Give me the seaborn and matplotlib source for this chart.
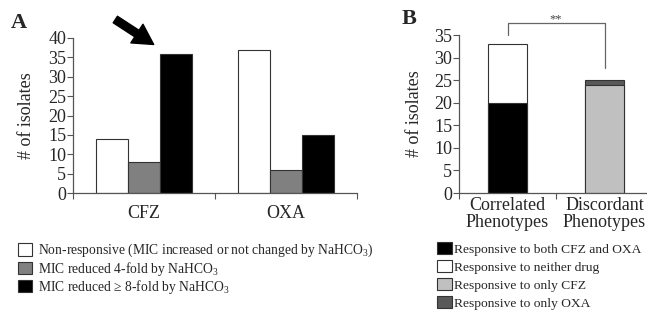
import matplotlib
matplotlib.use("Agg")
import matplotlib.pyplot as plt
import seaborn as sns
import pandas as pd
from matplotlib.patches import Patch

# ---- data ----
drugs = ["CFZ", "OXA"]
resp_labels = ["Non-responsive (MIC increased or not changed by NaHCO$_3$)",
               "MIC reduced 4-fold by NaHCO$_3$",
               "MIC reduced \u2265 8-fold by NaHCO$_3$"]
nonresp = [14, 37]
reduced4 = [8, 6]
reduced8 = [36, 15]

phenos = ["Correlated\nPhenotypes", "Discordant\nPhenotypes"]
both = [20, 0]
neither = [13, 0]
only_cfz = [0, 24]
only_oxa = [0, 1]
b_labels = ["Responsive to both CFZ and OXA", "Responsive to neither drug",
            "Responsive to only CFZ", "Responsive to only OXA"]

sns.set_theme(style="white")
plt.rcParams["font.family"] = ["Liberation Serif", "DejaVu Serif"]
plt.rcParams["mathtext.fontset"] = "custom"
plt.rcParams["mathtext.rm"] = "Liberation Serif"
plt.rcParams["mathtext.it"] = "Liberation Serif:italic"

FS = 13
edge = "#333333"
spine_c = "#555555"

fig = plt.figure(figsize=(6.47, 3.13), dpi=100)
axA = fig.add_axes([73/647, 1-193/313, 284/647, 155/313])
axB = fig.add_axes([459/647, 1-193/313, 194/647, 158/313])

# ---- panel A ----
dfA = pd.DataFrame({
    "drug": drugs * 3,
    "group": [resp_labels[0]]*2 + [resp_labels[1]]*2 + [resp_labels[2]]*2,
    "count": nonresp + reduced4 + reduced8,
})
palA = {resp_labels[0]: "white", resp_labels[1]: "#808080", resp_labels[2]: "black"}
sns.barplot(data=dfA, x="drug", y="count", hue="group", hue_order=resp_labels,
            palette=palA, width=0.67, gap=0, edgecolor=edge, linewidth=0.8,
            saturation=1, legend=False, ax=axA)
axA.set_ylim(0, 40)
axA.set_yticks(range(0, 41, 5))
axA.set_xlim(-0.5, 1.5)

# ---- panel B (stacked by layering) ----
dfB_tot = pd.DataFrame({"pheno": phenos,
                        "val": [both[0] + neither[0], only_cfz[1] + only_oxa[1]],
                        "cls": ["top0", "top1"]})
dfB_bot = pd.DataFrame({"pheno": phenos,
                        "val": [both[0], only_cfz[1]],
                        "cls": ["bot0", "bot1"]})
sns.barplot(data=dfB_tot, x="pheno", y="val", hue="cls",
            palette={"top0": "white", "top1": "#595959"}, dodge=False,
            width=0.4, edgecolor=edge, linewidth=0.8, saturation=1,
            legend=False, ax=axB)
sns.barplot(data=dfB_bot, x="pheno", y="val", hue="cls",
            palette={"bot0": "black", "bot1": "#c0c0c0"}, dodge=False,
            width=0.4, edgecolor=edge, linewidth=0.8, saturation=1,
            legend=False, ax=axB)
axB.set_ylim(0, 35)
axB.set_yticks(range(0, 36, 5))
axB.set_xlim(-0.5, 1.5)

for ax in (axA, axB):
    sns.despine(ax=ax)
    for s in ("left", "bottom"):
        ax.spines[s].set_color(spine_c)
        ax.spines[s].set_linewidth(0.9)
    ax.set_xlabel("")
    ax.set_ylabel("# of isolates", fontsize=FS, labelpad=9)
    ax.tick_params(axis="y", direction="out", length=4, width=0.8, color=spine_c,
                   labelsize=FS, pad=1, left=True)
    ax.tick_params(axis="x", which="major", length=0, labelsize=FS, pad=9)
    ax.set_xticks([-0.5, 0.5, 1.5], minor=True)
    ax.tick_params(axis="x", which="minor", direction="out", length=4, width=0.8,
                   color=spine_c, bottom=True)
    for lab in ax.get_yticklabels() + ax.get_xticklabels():
        lab.set_fontsize(FS)

axB.set_ylabel("# of isolates", fontsize=FS, labelpad=8)
axB.tick_params(axis="x", which="major", pad=3)
for lab in axB.get_xticklabels():
    lab.set_linespacing(0.95)

# bracket
bx0, bx1 = 0, 1
axB.plot([bx0, bx0, bx1, bx1], [35.0, 37.7, 37.7, 27.7], color="#666666",
         lw=0.9, clip_on=False)
axB.text(0.5, 37.2, "**", ha="center", va="bottom", fontsize=9, color="#444444")

# panel letters
fig.text(11/647, 1-28/313, "A", fontsize=16, fontweight="bold", ha="left", va="baseline")
fig.text(402/647, 1-24/313, "B", fontsize=16, fontweight="bold", ha="left", va="baseline")

# arrow
fig.add_artist(matplotlib.patches.FancyArrowPatch(
    (113/647, 1-18/313), (156/647, 1-46/313), transform=fig.transFigure,
    arrowstyle="simple,head_width=1.0,head_length=0.9,tail_width=0.35",
    mutation_scale=16, color="black"))

# legends
handlesA = [Patch(facecolor=palA[l], edgecolor=edge, linewidth=0.8) for l in resp_labels]
fig.legend(handlesA, resp_labels, loc="upper left",
           bbox_to_anchor=(18/647, 1-242/313), frameon=False, fontsize=9.8,
           borderpad=0, handlelength=1.0, handleheight=1.0, handletextpad=0.45,
           labelspacing=0.02, borderaxespad=0)
colsB = ["black", "white", "#c0c0c0", "#595959"]
handlesB = [Patch(facecolor=c, edgecolor=edge, linewidth=0.8) for c in colsB]
fig.legend(handlesB, b_labels, loc="upper left",
           bbox_to_anchor=(437/647, 1-242/313), frameon=False, fontsize=9.7,
           borderpad=0, handlelength=1.1, handleheight=1.05, handletextpad=0.15,
           labelspacing=0.3, borderaxespad=0)

fig.savefig("out.png", dpi=100)
